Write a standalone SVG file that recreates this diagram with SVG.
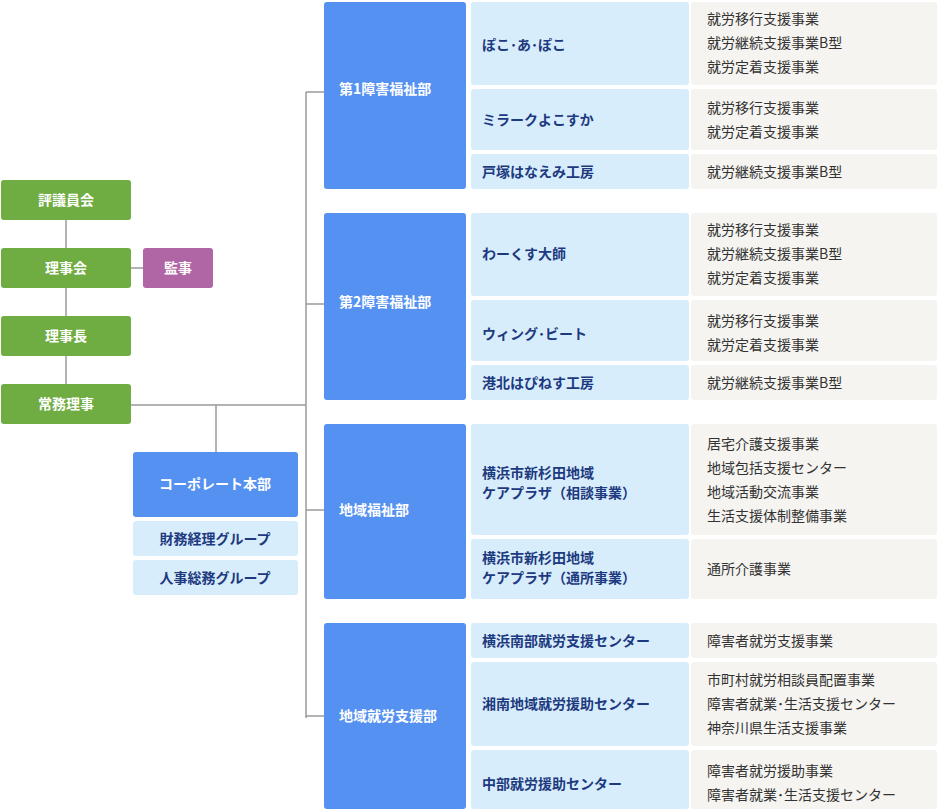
<svg xmlns="http://www.w3.org/2000/svg" width="940" height="810" viewBox="0 0 940 810">
<style>
text{font-family:"Noto Sans CJK JP","Noto Sans",sans-serif;font-size:14px}
.g{fill:#6fac42}.p{fill:#b066a4}.b{fill:#5591f0}.l{fill:#d8edfc}.s{fill:#f5f4f0}
.w{fill:#fff;font-weight:bold}.n{fill:#1d3a7f;font-weight:bold}.t{fill:#333}
.c{stroke:#9a9a9a;stroke-width:1.5;fill:none}
</style>
<g id="connectors" class="c">
<path d="M66 220V384M131 268H143M131 405H306M216 405V452M306 92V718M306 92H324M306 304H324M306 510H324M306 716H324"/>
</g>
<g id="hyogiin"><rect class="g" x="1" y="180" width="130" height="40" rx="3"/><text class="w" x="66" y="205" text-anchor="middle">評議員会</text></g>
<g id="rijikai"><rect class="g" x="1" y="248" width="130" height="40" rx="3"/><text class="w" x="66" y="273" text-anchor="middle">理事会</text></g>
<g id="kanji"><rect class="p" x="143" y="248" width="70" height="40" rx="3"/><text class="w" x="178" y="273" text-anchor="middle">監事</text></g>
<g id="rijicho"><rect class="g" x="1" y="316" width="130" height="40" rx="3"/><text class="w" x="66" y="341" text-anchor="middle">理事長</text></g>
<g id="jomu"><rect class="g" x="1" y="384" width="130" height="40" rx="3"/><text class="w" x="66" y="409" text-anchor="middle">常務理事</text></g>
<g id="corp"><rect class="b" x="133" y="452" width="165" height="65" rx="3"/><text class="w" x="215" y="489" text-anchor="middle">コーポレート本部</text></g>
<g id="zaimu"><rect class="l" x="133" y="521" width="165" height="35" rx="3"/><text class="n" x="215" y="544" text-anchor="middle">財務経理グループ</text></g>
<g id="jinji"><rect class="l" x="133" y="560" width="165" height="35" rx="3"/><text class="n" x="215" y="583" text-anchor="middle">人事総務グループ</text></g>

<g id="dept1"><rect class="b" x="324" y="2" width="142" height="187" rx="3"/><text class="w" x="339" y="94">第1障害福祉部</text></g>
<g id="dept2"><rect class="b" x="324" y="213" width="142" height="187" rx="3"/><text class="w" x="339" y="307">第2障害福祉部</text></g>
<g id="dept3"><rect class="b" x="324" y="424" width="142" height="175" rx="3"/><text class="w" x="339" y="515">地域福祉部</text></g>
<g id="dept4"><rect class="b" x="324" y="623" width="142" height="186" rx="3"/><text class="w" x="339" y="721">地域就労支援部</text></g>

<g id="u1"><rect class="l" x="471" y="2" width="218" height="83" rx="3"/><text class="n" x="482" y="50">ぽこ･あ･ぽこ</text>
<rect class="s" x="691" y="2" width="246" height="83" rx="3"/><text class="t" x="707" y="24">就労移行支援事業</text><text class="t" x="707" y="48">就労継続支援事業B型</text><text class="t" x="707" y="72">就労定着支援事業</text></g>
<g id="u2"><rect class="l" x="471" y="89" width="218" height="61" rx="3"/><text class="n" x="482" y="125">ミラークよこすか</text>
<rect class="s" x="691" y="89" width="246" height="61" rx="3"/><text class="t" x="707" y="113">就労移行支援事業</text><text class="t" x="707" y="137">就労定着支援事業</text></g>
<g id="u3"><rect class="l" x="471" y="154" width="218" height="35" rx="3"/><text class="n" x="482" y="177">戸塚はなえみ工房</text>
<rect class="s" x="691" y="154" width="246" height="35" rx="3"/><text class="t" x="707" y="177">就労継続支援事業B型</text></g>

<g id="u4"><rect class="l" x="471" y="213" width="218" height="83" rx="3"/><text class="n" x="482" y="259">わーくす大師</text>
<rect class="s" x="691" y="213" width="246" height="83" rx="3"/><text class="t" x="707" y="235">就労移行支援事業</text><text class="t" x="707" y="259">就労継続支援事業B型</text><text class="t" x="707" y="283">就労定着支援事業</text></g>
<g id="u5"><rect class="l" x="471" y="300" width="218" height="61" rx="3"/><text class="n" x="482" y="339">ウィング･ビート</text>
<rect class="s" x="691" y="300" width="246" height="61" rx="3"/><text class="t" x="707" y="326">就労移行支援事業</text><text class="t" x="707" y="350">就労定着支援事業</text></g>
<g id="u6"><rect class="l" x="471" y="365" width="218" height="35" rx="3"/><text class="n" x="482" y="388">港北はぴねす工房</text>
<rect class="s" x="691" y="365" width="246" height="35" rx="3"/><text class="t" x="707" y="388">就労継続支援事業B型</text></g>

<g id="u7"><rect class="l" x="471" y="424" width="218" height="111" rx="3"/><text class="n" x="482" y="478">横浜市新杉田地域</text><text class="n" x="482" y="498">ケアプラザ（相談事業）</text>
<rect class="s" x="691" y="424" width="246" height="111" rx="3"/><text class="t" x="707" y="449">居宅介護支援事業</text><text class="t" x="707" y="473">地域包括支援センター</text><text class="t" x="707" y="497">地域活動交流事業</text><text class="t" x="707" y="521">生活支援体制整備事業</text></g>
<g id="u8"><rect class="l" x="471" y="539" width="218" height="60" rx="3"/><text class="n" x="482" y="563">横浜市新杉田地域</text><text class="n" x="482" y="583">ケアプラザ（通所事業）</text>
<rect class="s" x="691" y="539" width="246" height="60" rx="3"/><text class="t" x="707" y="574">通所介護事業</text></g>

<g id="u9"><rect class="l" x="471" y="623" width="218" height="35" rx="3"/><text class="n" x="482" y="646">横浜南部就労支援センター</text>
<rect class="s" x="691" y="623" width="246" height="35" rx="3"/><text class="t" x="707" y="646">障害者就労支援事業</text></g>
<g id="u10"><rect class="l" x="471" y="662" width="218" height="84" rx="3"/><text class="n" x="482" y="709">湘南地域就労援助センター</text>
<rect class="s" x="691" y="662" width="246" height="84" rx="3"/><text class="t" x="707" y="685">市町村就労相談員配置事業</text><text class="t" x="707" y="709">障害者就業･生活支援センター</text><text class="t" x="707" y="733">神奈川県生活支援事業</text></g>
<g id="u11"><rect class="l" x="471" y="750" width="218" height="59" rx="3"/><text class="n" x="482" y="789">中部就労援助センター</text>
<rect class="s" x="691" y="750" width="246" height="59" rx="3"/><text class="t" x="707" y="776">障害者就労援助事業</text><text class="t" x="707" y="800">障害者就業･生活支援センター</text></g>
</svg>
